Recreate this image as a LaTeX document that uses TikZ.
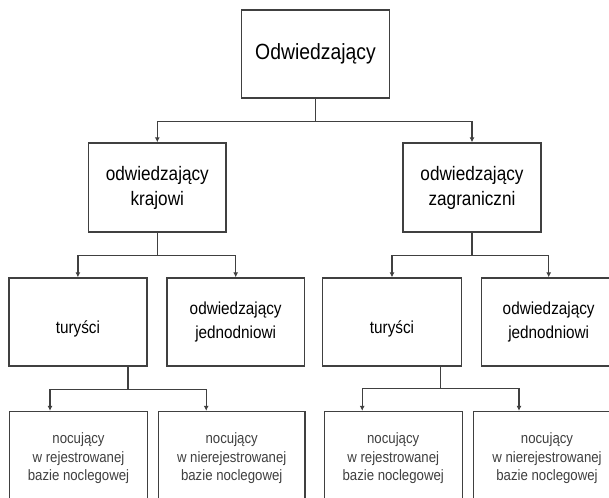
\documentclass[tikz,border=0pt]{standalone}
\usepackage{fontspec}
\setmainfont{Liberation Sans}[FakeStretch=0.88]
\usetikzlibrary{arrows.meta}
\begin{document}
\begin{tikzpicture}[x=1pt,y=-1pt]
		\tikzstyle{every node}+=[inner sep=0pt]
		\tikzstyle{box}=[draw=black!75,line width=1.3pt,align=center,fill=white,minimum height=88pt]
		\tikzstyle{conn}=[draw=black!75,line width=1.3pt]
		\tikzstyle{arr}=[conn,-{Latex[length=5pt,width=5pt]}]
		\tikzstyle{big}=[font=\fontsize{22}{26}\selectfont]
		\tikzstyle{mid}=[font=\fontsize{19.5}{25}\selectfont]
		\tikzstyle{small}=[font=\fontsize{17.4}{23.3}\selectfont]
		\tikzstyle{tiny}=[font=\fontsize{15}{18.5}\selectfont,text=black!75,minimum height=94pt]
		\clip (0,0) rectangle (609,497);
		\node [box,big,minimum width=148pt] (odw) at (315.5,54) {Odwiedzający};
		\node [box,mid,minimum width=137.5pt,minimum height=89pt] (kraj) at (157.3,187.5) {odwiedzający\\krajowi};
		\node [box,mid,minimum width=138pt,minimum height=89pt] (zagr) at (472,187.5) {odwiedzający\\zagraniczni};
		\node [box,small,minimum width=138pt,label={[small,yshift=-7pt]center:turyści}] (tur1) at (77.9,322) {};
		\node [box,small,minimum width=137.5pt] (jed1) at (235.7,322) {odwiedzający\\jednodniowi};
		\node [box,small,minimum width=138.7pt,label={[small,yshift=-7pt]center:turyści}] (tur2) at (392,322) {};
		\node [box,small,minimum width=134.2pt] (jed2) at (548.7,322) {odwiedzający\\jednodniowi};
		\node [box,tiny,minimum width=138pt] (noc11) at (78.5,458.5) {nocujący\\w rejestrowanej\\bazie noclegowej};
		\node [box,tiny,minimum width=146.5pt] (noc12) at (231.7,458.5) {nocujący\\w nierejestrowanej\\bazie noclegowej};
		\node [box,tiny,minimum width=138pt] (noc21) at (393.2,458.5) {nocujący\\w rejestrowanej\\bazie noclegowej};
		\node [box,tiny,minimum width=147pt] (noc22) at (547,458.5) {nocujący\\w nierejestrowanej\\bazie noclegowej};
		\draw [conn] (odw.south) -- ++(0,23) coordinate (j0);
		\draw [arr] (j0) -| (kraj.north);
		\draw [arr] (j0) -| (zagr.north);
		\draw [conn] (kraj.south) -- ++(0,23) coordinate (j1);
		\draw [arr] (j1) -| (tur1.north);
		\draw [arr] (j1) -| (jed1.north);
		\draw [conn] (zagr.south) -- ++(0,23) coordinate (j2);
		\draw [arr] (j2) -| (tur2.north);
		\draw [arr] (j2) -| (jed2.north);
		\draw [conn] ([xshift=50pt]tur1.south) -- ++(0,23) coordinate (j3);
		\draw [arr] (j3) -| ([xshift=-28.5pt]noc11.north);
		\draw [arr] (j3) -| ([xshift=-25.5pt]noc12.north);
		\draw [conn] ([xshift=48.4pt]tur2.south) -- ++(0,22) coordinate (j4);
		\draw [arr] (j4) -| ([xshift=-31pt]noc21.north);
		\draw [arr] (j4) -| ([xshift=-28pt]noc22.north);
	\end{tikzpicture}
\end{document}
